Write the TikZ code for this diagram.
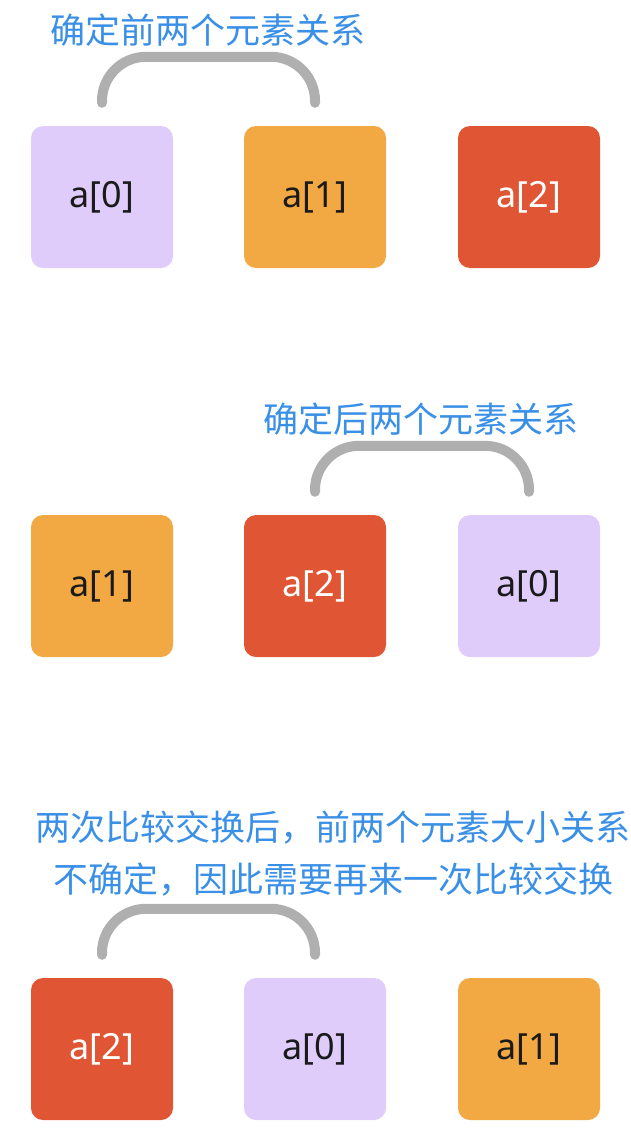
\documentclass[tikz,border=0pt]{standalone}
\usepackage{fontspec}
\setmainfont{Noto Sans}
\newfontfamily\cjk{Noto Sans CJK SC}
\definecolor{lav}{HTML}{E0CCFA}
\definecolor{org}{HTML}{F2A944}
\definecolor{rd}{HTML}{E05533}
\definecolor{note}{HTML}{3A8FE6}
\definecolor{arcgray}{HTML}{AFAFAF}
\definecolor{ink}{HTML}{1A1A1A}

\begin{document}
\begin{tikzpicture}[x=1pt, y=-1pt,
  elem/.style={minimum size=142pt, rounded corners=12pt, inner sep=0pt, font=\fontsize{36}{40}\selectfont},
  e0/.style={elem, fill=lav, text=ink},
  e1/.style={elem, fill=org, text=ink},
  e2/.style={elem, fill=rd, text=white},
  link/.style={line width=10pt, arcgray, line cap=round, rounded corners=44pt},
  tip/.style={text=note, align=center, font=\cjk\fontsize{35}{52}\selectfont}]
\useasboundingbox (0,0) rectangle (630,1140);

% first pass
\node[e0] (r1a) at (102,197) {a[0]};
\node[e1] (r1b) at (315,197) {a[1]};
\node[e2] (r1c) at (529,197) {a[2]};
\node[tip] (t1) at (208,30) {确定前两个元素关系};
\draw[link] ([yshift=23pt]r1a.north) -- ++(0,-46) -| ([yshift=23pt]r1b.north);

% second pass
\node[e1] (r2a) at (102,586) {a[1]};
\node[e2] (r2b) at (315,586) {a[2]};
\node[e0] (r2c) at (529,586) {a[0]};
\node[tip] (t2) at (421,419) {确定后两个元素关系};
\draw[link] ([yshift=23pt]r2b.north) -- ++(0,-46) -| ([yshift=23pt]r2c.north);

% third pass
\node[e2] (r3a) at (102,1049) {a[2]};
\node[e0] (r3b) at (315,1049) {a[0]};
\node[e1] (r3c) at (529,1049) {a[1]};
\node[tip] (t3) at (333,854) {两次比较交换后，前两个元素大小关系\\不确定，因此需要再来一次比较交换};
\draw[link] ([yshift=23pt]r3a.north) -- ++(0,-46) -| ([yshift=23pt]r3b.north);
\end{tikzpicture}
\end{document}
